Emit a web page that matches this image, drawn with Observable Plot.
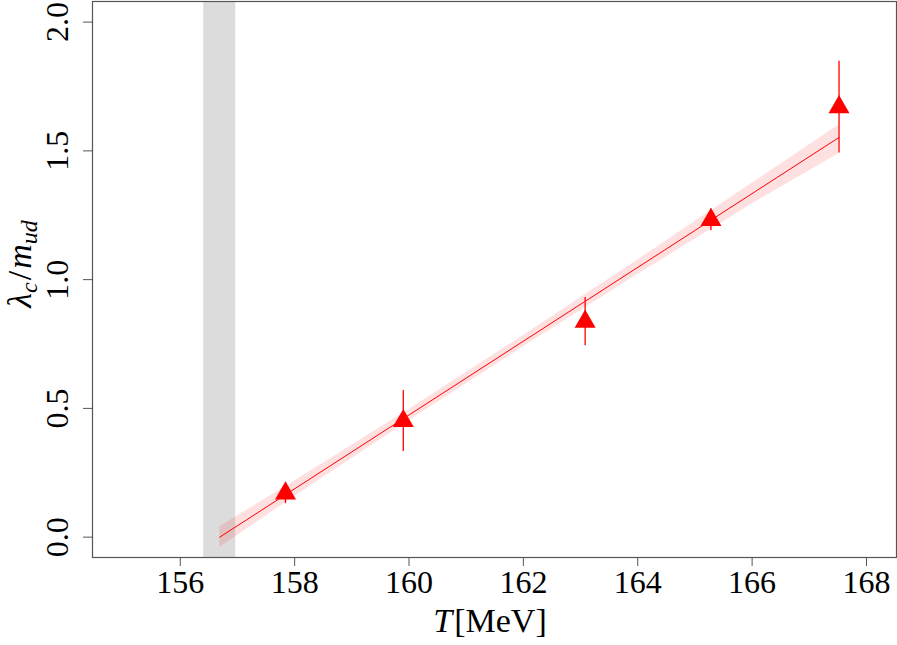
<!DOCTYPE html>
<html>
<head>
<meta charset="utf-8">
<script src="https://cdn.jsdelivr.net/npm/d3@7"></script>
<script src="https://cdn.jsdelivr.net/npm/@observablehq/plot@0.6"></script>
<style>
  html, body { margin: 0; padding: 0; background: #fff; }
  #chart svg { display: block; }
  #chart svg text { font-family: 'Liberation Serif', 'Times New Roman', serif; }
</style>
</head>
<body>
<div id="chart"></div>
<script>
// Data points (T in MeV, lambda_c / m_ud)
const T = [157.84, 159.90, 163.08, 165.28, 167.52];
const ratio = [0.170, 0.451, 0.837, 1.232, 1.670];
const err = [0.040, 0.118, 0.094, 0.042, 0.178];

// Linear fit line
const fitT = [156.69, 167.52];
const fitY = [0.000, 1.552];

// Fit error band
const bandT  = [156.69, 158.0, 160.0, 162.0, 164.0, 166.0, 167.52];
const bandLo = [-0.040, 0.158, 0.452, 0.739, 1.020, 1.294, 1.490];
const bandHi = [ 0.040, 0.218, 0.496, 0.783, 1.076, 1.374, 1.600];

// Grey vertical band (Tc region)
const greyBand = [156.41, 156.97];

// Tick values
const xTicks = [156, 158, 160, 162, 164, 166, 168];
const yTicks = [0.0, 0.5, 1.0, 1.5, 2.0];
const yTickLabels = ["0.0", "0.5", "1.0", "1.5", "2.0"];

const points = T.map((t, i) => ({T: t, v: ratio[i], lo: ratio[i] - err[i], hi: ratio[i] + err[i]}));
const fit = fitT.map((t, i) => ({T: t, v: fitY[i]}));
const band = bandT.map((t, i) => ({T: t, lo: bandLo[i], hi: bandHi[i]}));
const yLab = yTicks.map((v, i) => ({v, label: yTickLabels[i]}));

const font = "'Liberation Serif', 'Times New Roman', serif";
const axisColor = "#555";

const chart = Plot.plot({
  width: 897,
  height: 645,
  marginLeft: 92,
  marginRight: 1,
  marginTop: 1,
  marginBottom: 88,
  style: {fontFamily: font, background: "#fff", color: "#000"},
  x: {domain: [154.465, 168.525]},
  y: {domain: [-0.079, 2.080]},
  marks: [
    Plot.rect([{x1: greyBand[0], x2: greyBand[1]}], {x1: "x1", x2: "x2", fill: "#dcdcdc"}),
    Plot.areaY(band, {x: "T", y1: "lo", y2: "hi", fill: "red", fillOpacity: 0.12}),
    Plot.line(fit, {x: "T", y: "v", stroke: "red", strokeWidth: 1}),
    Plot.ruleX(points, {x: "T", y1: "lo", y2: "hi", stroke: "red", strokeWidth: 1.3}),
    Plot.dot(points, {x: "T", y: "v", symbol: "triangle", r: 7.8, fill: "red", stroke: "none"}),
    Plot.frame({stroke: axisColor, strokeWidth: 1.2}),
    Plot.axisX({
      ticks: xTicks, tickFormat: d => String(d), tickSize: 9, tickPadding: 4,
      fontSize: 32, fontFamily: font, stroke: axisColor, label: null, fill: "#000"
    }),
    Plot.axisY({
      ticks: yTicks, tickFormat: () => "", tickSize: 9, stroke: axisColor, label: null
    }),
    Plot.text(yLab, {
      y: "v", text: "label", frameAnchor: "left", dx: -35, rotate: -90,
      textAnchor: "middle", lineAnchor: "middle", fontSize: 32, fontFamily: font,
      fill: "#000", clip: false
    })
  ]
});

const svg = d3.select(chart);
// X axis title: italic T then [MeV]
const xl = svg.append("text")
  .attr("x", 490).attr("y", 632)
  .attr("text-anchor", "middle")
  .style("font-family", font).style("font-size", "34px").attr("fill", "#000");
xl.append("tspan").style("font-style", "italic").text("T");
xl.append("tspan").attr("dx", "2").text("[MeV]");

// Y axis title: λ_c / m_ud rotated
const yl = svg.append("text")
  .attr("transform", "translate(31,264) rotate(-90)")
  .attr("text-anchor", "middle")
  .style("font-family", font).style("font-size", "34px").attr("fill", "#000");
yl.append("tspan").style("font-style", "italic").text("λ");
yl.append("tspan").style("font-style", "italic").style("font-size", "24px").attr("dy", "6").text("c");
yl.append("tspan").attr("dy", "-6").attr("dx", "2").text("/");
yl.append("tspan").style("font-style", "italic").attr("dx", "2").text("m");
yl.append("tspan").style("font-style", "italic").style("font-size", "24px").attr("dy", "6").text("ud");

document.getElementById("chart").appendChild(chart);
</script>
</body>
</html>
